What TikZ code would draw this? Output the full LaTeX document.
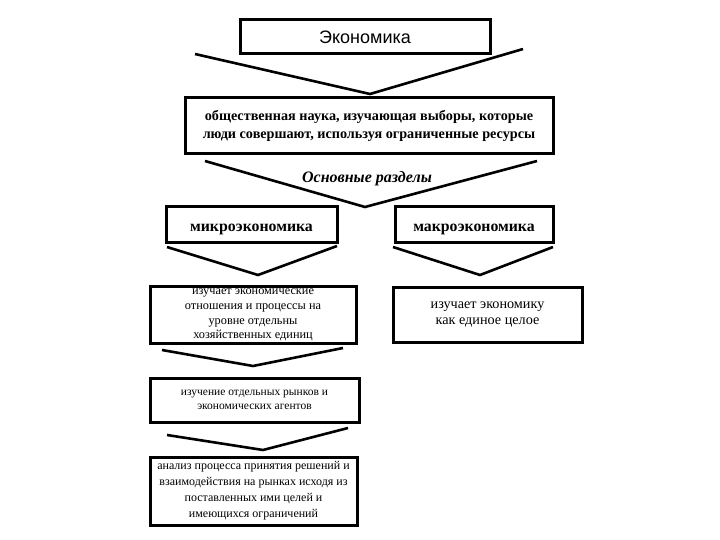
\documentclass[tikz,border=0pt]{standalone}
\usepackage{fontspec}
\setmainfont{Liberation Serif}
\newfontfamily\arialf{Liberation Sans}
\begin{document}
\begin{tikzpicture}[x=1pt,y=-1pt,
  box/.style={draw=black,line width=3pt,fill=white,inner sep=2pt,align=center},
  headbox/.style={box,minimum height=35pt,text height=14pt,text depth=0pt,font=\bfseries\fontsize{15.8}{19}\selectfont},
  vline/.style={draw=black,line width=2.6pt,line join=miter},
]
\useasboundingbox[fill=white] (0,0) rectangle (720,540);
% boxes
\node[box,minimum width=250pt,minimum height=34pt,font=\arialf\fontsize{18}{21}\selectfont] (b1) at (365,37) {Экономика};
\node[box,minimum width=368pt,minimum height=56pt,font=\bfseries\fontsize{14.2}{17.5}\selectfont] (b2) at (369,126)
  {общественная наука, изучающая выборы, которые\\люди совершают, используя ограниченные ресурсы};
\node[font=\bfseries\itshape\fontsize{16}{19}\selectfont] (osn) at (367,179) {Основные разделы};
\node[headbox,minimum width=171pt] (micro) at (251.5,224.5) {микроэкономика};
\node[headbox,minimum width=158pt] (macro) at (474,224.5) {макроэкономика};
\node[box,minimum width=206pt,minimum height=56pt,font=\fontsize{12.3}{14.7}\selectfont] (mdesc) at (253,315)
  {изучает экономические\\отношения и процессы на\\уровне отдельны\\хозяйственных единиц};
\node[box,minimum width=189pt,minimum height=55pt,font=\fontsize{14.2}{15.5}\selectfont] (Mdesc) at (487.5,314.5)
  {изучает экономику\\как единое целое};
\node[box,minimum width=209pt,minimum height=44pt,font=\fontsize{11.5}{13.5}\selectfont] (b5) at (254.5,400)
  {изучение отдельных рынков и\\экономических агентов};
\node[box,minimum width=207pt,minimum height=68pt,font=\fontsize{12}{16}\selectfont] (b6) at (253.5,491)
  {анализ процесса принятия решений и\\взаимодействия на рынках исходя из\\поставленных ими целей и\\имеющихся ограничений};
% chevrons
\coordinate (v1l) at (195,54); \coordinate (v1a) at (370,94); \coordinate (v1r) at (523,49);
\coordinate (v2l) at (205,161); \coordinate (v2a) at (365,207); \coordinate (v2r) at (537,161);
\coordinate (v3l) at (167,247); \coordinate (v3a) at (258,275); \coordinate (v3r) at (337,246);
\coordinate (v4l) at (393,247); \coordinate (v4a) at (480,275); \coordinate (v4r) at (553,247);
\coordinate (v5l) at (162,350); \coordinate (v5a) at (253,366); \coordinate (v5r) at (343,348);
\coordinate (v6l) at (167,435); \coordinate (v6a) at (263,450); \coordinate (v6r) at (348,428);
\foreach \v in {v1,v2,v3,v4,v5,v6}
  \draw[vline] (\v l) -- (\v a) -- (\v r);
\end{tikzpicture}
\end{document}
